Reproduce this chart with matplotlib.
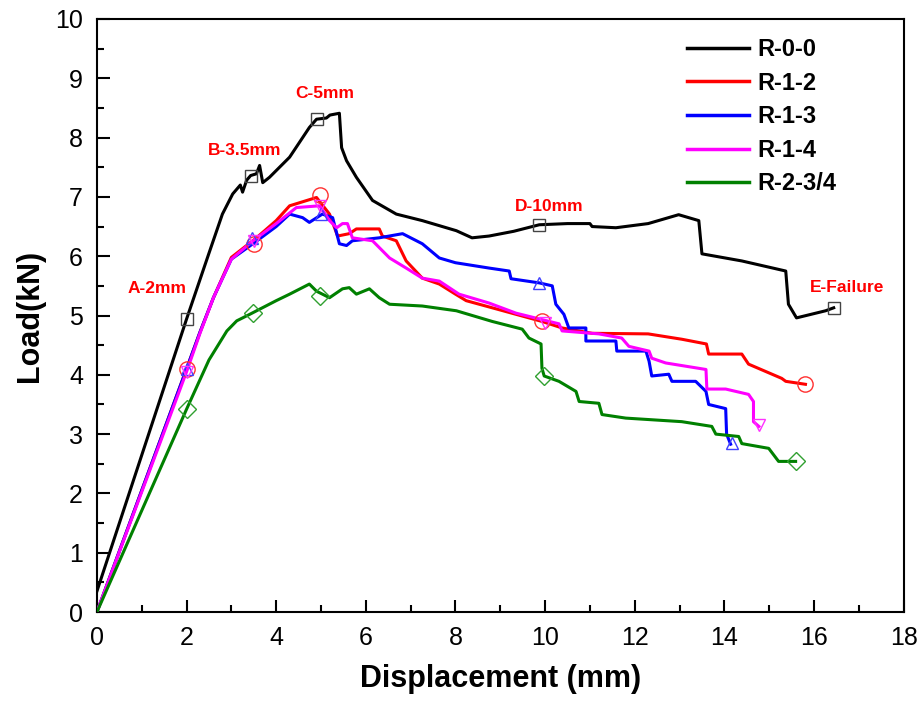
import matplotlib
matplotlib.use('Agg')
import matplotlib.pyplot as plt
from matplotlib.ticker import MultipleLocator

plt.rcParams['font.family'] = ['Liberation Sans', 'DejaVu Sans']

# ---- data ----
labels = ['R-0-0', 'R-1-2', 'R-1-3', 'R-1-4', 'R-2-3/4']
colors = ['black', 'red', 'blue', 'magenta', 'green']
marker_styles = ['s', 'o', '^', 'v', 'D']
marker_colors = ['#444444', '#ff3030', '#4040ff', '#ff30ff', '#30a030']

r00_x = [0, 2.0, 2.5, 2.8, 3.03, 3.2, 3.25, 3.34, 3.43, 3.56, 3.63, 3.7, 3.85, 4.3, 4.74, 4.9,
         5.12, 5.2, 5.41, 5.46, 5.57, 5.79, 6.15, 6.68, 7.26, 8.02, 8.37, 8.75, 9.3, 9.87,
         10.5, 11.0, 11.05, 11.58, 12.3, 12.98, 13.43, 13.5, 14.39, 15.37, 15.43, 15.61,
         16.26, 16.44]
r00_y = [0.35, 4.94, 6.05, 6.71, 7.05, 7.2, 7.08, 7.28, 7.36, 7.39, 7.53, 7.24, 7.33, 7.67, 8.17, 8.31,
         8.33, 8.38, 8.41, 7.83, 7.61, 7.33, 6.94, 6.71, 6.6, 6.43, 6.31, 6.34, 6.42, 6.53,
         6.55, 6.55, 6.5, 6.48, 6.55, 6.70, 6.6, 6.04, 5.92, 5.75, 5.19, 4.96,
         5.08, 5.13]

r12_x = [0, 2.0, 2.3, 2.6, 3.0, 3.56, 4.0, 4.3, 4.6, 4.9, 5.19, 5.37, 5.63, 5.79, 6.3,
         6.37, 6.68, 6.9, 7.26, 7.64, 8.0, 8.24, 8.82, 9.93, 10.38, 11.05, 12.3, 13.05,
         13.6, 13.65, 14.39, 14.54, 15.28, 15.37, 15.81]
r12_y = [0, 4.1, 4.72, 5.3, 5.98, 6.31, 6.6, 6.85, 6.92, 6.99, 6.71, 6.34, 6.38, 6.46, 6.46,
         6.34, 6.26, 5.92, 5.63, 5.53, 5.36, 5.25, 5.13, 4.9, 4.79, 4.7, 4.69, 4.6,
         4.52, 4.35, 4.35, 4.18, 3.94, 3.89, 3.84]

r13_x = [0, 2.0, 2.3, 2.6, 3.0, 3.5, 4.0, 4.3, 4.59, 4.74, 5.03, 5.26, 5.41, 5.57, 5.7,
         6.3, 6.82, 7.26, 7.64, 8.0, 8.75, 9.2, 9.24, 9.87, 10.16, 10.24, 10.42, 10.53,
         10.91, 10.91, 11.58, 11.6, 12.25, 12.32, 12.38, 12.76, 12.83, 13.36, 13.59,
         13.65, 14.03, 14.05, 14.14]
r13_y = [0, 4.1, 4.72, 5.3, 5.95, 6.22, 6.5, 6.71, 6.65, 6.57, 6.71, 6.65, 6.21, 6.18, 6.26,
         6.31, 6.38, 6.21, 5.97, 5.89, 5.8, 5.75, 5.62, 5.55, 5.5, 5.19, 5.02, 4.79,
         4.79, 4.57, 4.57, 4.4, 4.4, 4.23, 3.98, 4.01, 3.89, 3.89, 3.72,
         3.5, 3.43, 3.0, 2.83]

r14_x = [0, 2.0, 2.3, 2.6, 3.0, 3.5, 4.0, 4.45, 4.97, 5.19, 5.35, 5.48, 5.59, 5.7, 6.15,
         6.53, 6.9, 7.26, 7.64, 8.08, 8.75, 9.35, 10.31, 10.38, 11.2, 11.71, 11.87, 12.32,
         12.38, 12.69, 13.59, 13.61, 14.03, 14.54, 14.65, 14.65, 14.77]
r14_y = [0, 4.05, 4.7, 5.3, 5.95, 6.27, 6.55, 6.82, 6.85, 6.6, 6.48, 6.55, 6.55, 6.31, 6.26,
         5.97, 5.8, 5.63, 5.58, 5.36, 5.21, 5.04, 4.86, 4.74, 4.69, 4.62, 4.48, 4.4,
         4.28, 4.2, 4.09, 3.76, 3.76, 3.67, 3.55, 3.21, 3.13]

r234_x = [0, 2.0, 2.5, 2.9, 3.12, 3.41, 4.0, 4.3, 4.74, 4.9, 5.19, 5.48, 5.63, 5.79, 6.08,
          6.3, 6.53, 7.26, 8.02, 8.82, 9.49, 9.64, 9.91, 9.93, 9.98, 10.31, 10.69, 10.76,
          11.2, 11.27, 11.8, 13.05, 13.72, 13.81, 14.32, 14.39, 14.99, 15.21, 15.59]
r234_y = [0, 3.42, 4.25, 4.74, 4.91, 5.02, 5.25, 5.36, 5.53, 5.41, 5.3, 5.45, 5.47, 5.36, 5.45,
          5.3, 5.19, 5.16, 5.08, 4.9, 4.77, 4.62, 4.52, 4.11, 3.98, 3.89, 3.72, 3.55,
          3.52, 3.33, 3.27, 3.21, 3.13, 3.0, 2.96, 2.84, 2.76, 2.54, 2.54]

# hollow markers at the stage points (A, B, C, D, end)
mk_x = [[2.0, 3.43, 4.9, 9.87, 16.44],
        [2.0, 3.5, 4.97, 9.93, 15.81],
        [2.0, 3.45, 5.0, 9.87, 14.16],
        [2.0, 3.5, 4.97, 10.0, 14.77],
        [2.0, 3.48, 4.97, 9.98, 15.59]]
mk_y = [[4.94, 7.36, 8.31, 6.53, 5.13],
        [4.1, 6.2, 7.04, 4.9, 3.84],
        [4.1, 6.3, 6.72, 5.55, 2.85],
        [4.05, 6.25, 6.85, 4.88, 3.16],
        [3.42, 5.04, 5.33, 3.98, 2.54]]

stage_text = ['A-2mm', 'B-3.5mm', 'C-5mm', 'D-10mm', 'E-Failure']
stage_x = [1.34, 3.3, 5.08, 10.09, 16.73]
stage_y = [5.45, 7.78, 8.75, 6.84, 5.48]

series_x = [r00_x, r12_x, r13_x, r14_x, r234_x]
series_y = [r00_y, r12_y, r13_y, r14_y, r234_y]

fig = plt.figure(figsize=(9.23, 7.03), dpi=100)
ax = fig.add_axes([0.105, 0.1294, 0.874, 0.8436])

for i in range(len(labels)):
    ax.plot(series_x[i], series_y[i], color=colors[i], lw=2.2, label=labels[i], zorder=3)
    ms = 9 if marker_styles[i] != 'o' else 11
    ax.plot(mk_x[i], mk_y[i], linestyle='none', marker=marker_styles[i],
            markersize=ms, markerfacecolor='none', markeredgecolor=marker_colors[i],
            markeredgewidth=1.0, zorder=4)

for t, x, y in zip(stage_text, stage_x, stage_y):
    ax.text(x, y, t, color='red', fontsize=12.5, fontweight='bold',
            ha='center', va='center')

ax.set_xlim(0, 18)
ax.set_ylim(0, 10)
ax.xaxis.set_major_locator(MultipleLocator(2))
ax.xaxis.set_minor_locator(MultipleLocator(1))
ax.yaxis.set_major_locator(MultipleLocator(1))
ax.yaxis.set_minor_locator(MultipleLocator(0.5))
ax.tick_params(which='both', direction='in', top=False, right=False,
               width=1.5, labelsize=18)
ax.tick_params(which='major', length=9, pad=10)
ax.tick_params(which='minor', length=5)
for s in ax.spines.values():
    s.set_linewidth(1.5)

ax.set_xlabel('Displacement (mm)', fontsize=22, fontweight='bold', labelpad=10)
ax.set_ylabel('Load(kN)', fontsize=22, fontweight='bold', labelpad=7)

leg = ax.legend(loc='upper left', frameon=False,
                prop={'weight': 'bold', 'size': 17}, handlelength=2.6,
                handletextpad=0.35, labelspacing=0.45, borderpad=0,
                borderaxespad=0, bbox_to_anchor=(0.732, 0.968))
for line in leg.get_lines():
    line.set_linewidth(2.5)

fig.savefig('out.png', dpi=100)
